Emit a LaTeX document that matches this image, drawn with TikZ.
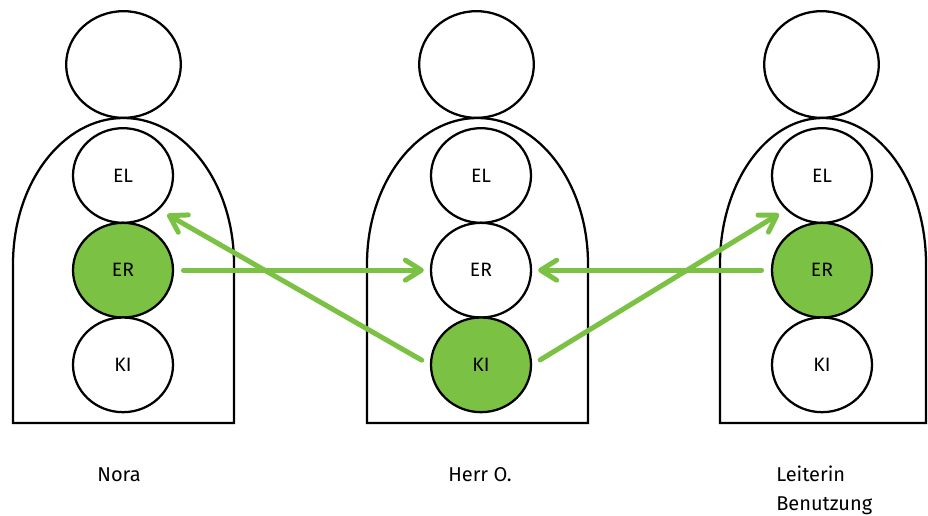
\documentclass[tikz,border=0pt]{standalone}
\usepackage{fontspec}
\setmainfont{Fira Sans}
\usetikzlibrary{arrows.meta,shapes.geometric,positioning}
\definecolor{leafgreen}{RGB}{123,193,67}
\tikzset{>={Straight Barb[length=12pt,width=15pt,round]}}
\tikzset{trait/.style={shape=ellipse, draw, line width=1.7pt, fill=white,
    minimum width=75pt, minimum height=71pt, inner sep=0pt,
    font=\fontsize{14.5}{17}\selectfont}}
\tikzset{traiton/.style={trait, fill=leafgreen}}
\tikzset{headshape/.style={shape=ellipse, draw, line width=1.7pt,
    minimum width=86pt, minimum height=80pt, inner sep=0pt}}
\tikzset{body/.style={draw, line width=1.7pt}}
\tikzset{flow/.style={->, draw=leafgreen, line width=3.75pt, line cap=round,
    shorten <=7pt, shorten >=4.5pt}}
\tikzset{personlabel/.style={font=\fontsize{15}{21.75}\selectfont,
    inner sep=0pt, align=left}}

\begin{document}
\begin{tikzpicture}[x=0.75pt, y=-0.75pt, node distance=71pt]
    \useasboundingbox (0,0) rectangle (928,515);
    % bodies
    \path[body] (13,423) -- (13,264) arc[start angle=180, end angle=360,
        x radius=110.5, y radius=146] -- (234,423) -- cycle;
    \path[body] (367,423) -- (367,264) arc[start angle=180, end angle=360,
        x radius=110.5, y radius=146] -- (588,423) -- cycle;
    \path[body] (720,423) -- (720,264) arc[start angle=180, end angle=360,
        x radius=103, y radius=146] -- (926,423) -- cycle;
    % heads
    \node[headshape] (head1) at (123.5,64.5) {};
    \node[headshape] (head2) at (476.5,64.5) {};
    \node[headshape] (head3) at (821.5,64.5) {};
    % Nora
    \node[trait] (el1) at (123,175.5) {EL};
    \node[traiton] (er1) [below of=el1] {ER};
    \node[trait] (ki1) [below of=er1] {KI};
    % Herr O.
    \node[trait] (el2) at (481,175.5) {EL};
    \node[trait] (er2) [below of=el2] {ER};
    \node[traiton] (ki2) [below of=er2] {KI};
    % Leiterin Benutzung
    \node[trait] (el3) at (822,175.5) {EL};
    \node[traiton] (er3) [below of=el3] {ER};
    \node[trait] (ki3) [below of=er3] {KI};
    % names
    \node[personlabel, anchor=base] (nora) at (119,481) {Nora};
    \node[personlabel, anchor=base] (herr) at (480,481) {Herr O.};
    \node[personlabel, anchor=base west] (leiterin) at (776,510) {Leiterin\\Benutzung};

    \draw[flow] (er1.east) to (er2.west);
    \draw[flow, shorten >=7pt] (ki2.west) to (el1.south east);
    \draw[flow] (er3.west) to (er2.east);
    \draw[flow, shorten >=6pt] (ki2.east) to (el3.south west);
\end{tikzpicture}
\end{document}
